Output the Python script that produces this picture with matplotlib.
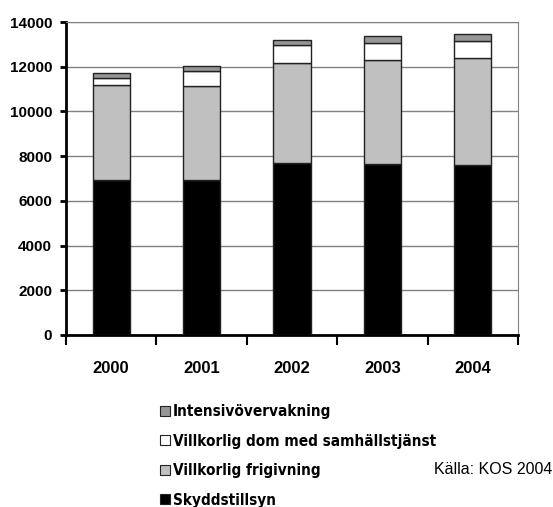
import matplotlib.pyplot as plt
import matplotlib.patches as mpatches
from matplotlib import font_manager
import numpy as np

years = ["2000", "2001", "2002", "2003", "2004"]
skydd = [6930, 6930, 7700, 7630, 7600]
frigivning = [4240, 4220, 4480, 4670, 4770]
samhalls = [310, 640, 800, 770, 760]
intensiv = [240, 240, 220, 300, 330]

labels = ["Skyddstillsyn", "Villkorlig frigivning",
          "Villkorlig dom med samhällstjänst", "Intensivövervakning"]
colors = ["#000000", "#c0c0c0", "#ffffff", "#969696"]
yticks = [0, 2000, 4000, 6000, 8000, 10000, 12000, 14000]

wide = ["Liberation Sans", "DejaVu Sans"]

# look for a condensed face for the legend, else shrink the normal one
cond = [f for f in font_manager.fontManager.ttflist
        if ("Narrow" in f.name or "Condensed" in f.name
            or f.stretch in ("condensed", "semi-condensed"))
        and f.weight in ("bold", 700)]
if cond:
    leg_prop = font_manager.FontProperties(fname=cond[0].fname, size=11)
else:
    leg_prop = font_manager.FontProperties(family=wide, weight="bold",
                                           size=10)

fig = plt.figure(figsize=(5.53, 5.07), dpi=100)
ax = fig.add_axes([0.1193, 0.3393, 0.8174, 0.6173])

x = np.arange(len(years))
series = [skydd, frigivning, samhalls, intensiv]
bottom = np.zeros(len(years))
for vals, lab, col in zip(series, labels, colors):
    ax.bar(x, vals, 0.41, bottom=bottom, color=col, edgecolor="#222222",
           linewidth=1, label=lab, zorder=3)
    bottom += np.array(vals)

ax.set_xlim(-0.5, 4.5)
ax.set_ylim(0, 14000)
ax.set_yticks(yticks)
ax.set_yticklabels([str(v) for v in yticks], family=wide,
                   fontweight="bold", fontsize=11)
ax.set_xticks(x)
ax.set_xticklabels(years, family=wide, fontweight="bold", fontsize=12)
ax.set_xticks(np.arange(-0.5, 5, 1), minor=True)
ax.tick_params(axis="x", which="major", length=0, pad=19)
ax.tick_params(axis="x", which="minor", length=7, width=1.5, direction="out")
ax.tick_params(axis="y", length=4, width=2, pad=6)

ax.grid(axis="y", color="#808080", lw=1, zorder=0)
for s in ["left", "bottom"]:
    ax.spines[s].set_linewidth(2)
    ax.spines[s].set_color("black")
ax.spines["right"].set_color("#808080")
ax.spines["top"].set_color("#808080")

handles = [mpatches.Patch(facecolor=c, edgecolor="#222222", lw=0.8)
           for c in colors]
fig.legend(handles[::-1], labels[::-1], loc="upper left",
           bbox_to_anchor=(160 / 553, 1 - 404 / 507), frameon=False,
           prop=leg_prop, handlelength=0.65, handleheight=0.65,
           handletextpad=0.2, labelspacing=0.95, borderpad=0,
           borderaxespad=0)

fig.text(552 / 553, 1 - 470 / 507, "Källa: KOS 2004", ha="right",
         va="center", family=wide, fontsize=11.5)

plt.savefig("out.png", dpi=100)
